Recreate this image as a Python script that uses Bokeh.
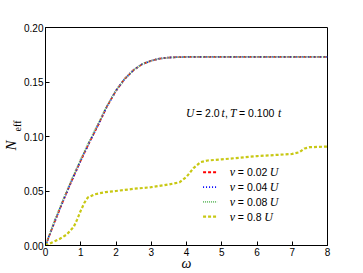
import math
from bokeh.plotting import figure
from bokeh.models import Range1d, FixedTicker, NumeralTickFormatter, Title
from bokeh.core.properties import value
from bokeh.embed import file_html
from bokeh.resources import INLINE

# ---------------- data ----------------
omega = [0, 0.25, 0.5, 0.75, 1.0, 1.25, 1.5, 1.75, 2.0, 2.25, 2.5, 2.75,
         3.0, 3.25, 3.5, 3.75, 4.0, 5.0, 6.0, 7.0, 8.0]
n_v002 = [0, 0.021, 0.041, 0.060, 0.078, 0.095, 0.111, 0.128, 0.142, 0.153,
          0.161, 0.1665, 0.1695, 0.1715, 0.1724, 0.1728, 0.173, 0.173, 0.173, 0.173, 0.173]
n_v004 = [0, 0.021, 0.041, 0.060, 0.078, 0.095, 0.111, 0.128, 0.142, 0.153,
          0.161, 0.1665, 0.1695, 0.1715, 0.1724, 0.1728, 0.173, 0.173, 0.173, 0.173, 0.173]
n_v008 = [0, 0.022, 0.042, 0.061, 0.079, 0.096, 0.112, 0.1285, 0.1423, 0.153,
          0.161, 0.1665, 0.1695, 0.1715, 0.1724, 0.1728, 0.173, 0.173, 0.173, 0.173, 0.173]

omega_v08 = [0, 0.2, 0.4, 0.6, 0.8, 0.9, 1.0, 1.1, 1.2, 1.4, 1.7, 2.0, 2.5, 3.0,
             3.5, 3.8, 4.0, 4.2, 4.4, 4.6, 5.0, 5.5, 6.0, 6.5, 7.0, 7.2, 7.35, 7.5, 8.0]
n_v08 = [0, 0.003, 0.006, 0.010, 0.017, 0.024, 0.032, 0.039, 0.044, 0.047, 0.049,
         0.050, 0.052, 0.0535, 0.056, 0.058, 0.063, 0.071, 0.0765, 0.078, 0.079,
         0.0805, 0.082, 0.083, 0.084, 0.0855, 0.089, 0.0902, 0.0908]

series_v = ["0.02", "0.04", "0.08", "0.8"]
colors = ["#ff0000", "#0000ff", "#6fbf6f", "#c8c814"]
dashes = ["3 2", "1 2", "1 1", "3 2"]
widths = [1.8, 1.8, 1.8, 2.2]

x_ticks = [0, 1, 2, 3, 4, 5, 6, 7, 8]
y_ticks = [0.0, 0.05, 0.10, 0.15, 0.20]

# ---------------- figure ----------------
p = figure(width=363, height=273, x_range=Range1d(0, 8), y_range=Range1d(0, 0.2),
           output_backend="svg", toolbar_location=None,
           min_border_left=45, min_border_right=36, min_border_top=27, min_border_bottom=28)
p.background_fill_color = "white"
p.border_fill_color = "white"
p.grid.visible = False
p.outline_line_color = "black"
p.outline_line_width = 1

for ax in (p.xaxis, p.yaxis):
    ax.axis_line_color = "black"
    ax.major_tick_line_color = "black"
    ax.major_tick_in = 4
    ax.major_tick_out = 0
    ax.minor_tick_in = 0
    ax.minor_tick_out = 0
    ax.major_label_text_font = "Liberation Sans"
    ax.major_label_text_font_size = "10px"
    ax.major_label_text_color = "black"
p.xaxis.ticker = FixedTicker(ticks=x_ticks)
p.yaxis.ticker = FixedTicker(ticks=y_ticks)
p.yaxis.formatter = NumeralTickFormatter(format="0.00")
p.xaxis.major_label_standoff = 2
p.yaxis.major_label_standoff = 2

p.xaxis.axis_label = "ω"
p.xaxis.axis_label_text_font = "Liberation Serif"
p.xaxis.axis_label_text_font_style = "italic"
p.xaxis.axis_label_text_font_size = "14px"
p.xaxis.axis_label_text_color = "black"
p.xaxis.axis_label_standoff = -3

# y axis label N_eff built from two side titles (subscript shifted)
p.add_layout(Title(text="eff", align="right", offset=93, standoff=-2,
                   text_font="Liberation Serif", text_font_style="normal",
                   text_font_size="10px", text_color="black"), "left")
p.add_layout(Title(text="N", align="right", offset=113, standoff=-16,
                   text_font="Liberation Serif", text_font_style="italic",
                   text_font_size="15px", text_color="black"), "left")

# ---------------- curves ----------------
all_curves = [(omega, n_v002), (omega, n_v004), (omega, n_v008), (omega_v08, n_v08)]
for (xs, ys), c, d, w in zip(all_curves, colors, dashes, widths):
    p.line(xs, ys, line_color=c, line_dash=d, line_width=w)

# ---------------- legend (manual, mixed italic) ----------------
leg_x0, leg_x1, leg_tx = 4.47, 4.87, 5.23
leg_y0, leg_dy = 0.0672, 0.0136
for i, (v, c, d, w) in enumerate(zip(series_v, colors, dashes, widths)):
    yy = leg_y0 - i * leg_dy
    p.line([leg_x0, leg_x1], [yy, yy], line_color=c, line_dash=d, line_width=w)
    p.text(x=[leg_tx], y=[yy], text=["v"], text_font=value("Liberation Serif"),
           text_font_style="italic", text_font_size="12px", text_baseline="middle")
    rest = "= " + v
    p.text(x=[leg_tx], y=[yy], text=[rest], x_offset=[8], text_font=value("Liberation Sans"),
           text_font_size="10.5px", text_baseline="middle")
    uoff = 8 + 5.6 * (len(v) + 1.0) + (2.9 if "." in v else 0) + 1
    p.text(x=[leg_tx], y=[yy], text=["U"], x_offset=[uoff], text_font=value("Liberation Serif"),
           text_font_style="italic", text_font_size="12px", text_baseline="middle")

# ---------------- annotation U = 2.0 t, T = 0.100 t ----------------
ann_x, ann_y = 3.986, 0.122
p.text(x=[ann_x] * 4, y=[ann_y] * 4, text=["U", "t", "T", "t"], x_offset=[0, 35.5, 44, 92],
       text_font=value("Liberation Serif"), text_font_style="italic", text_font_size="11.5px",
       text_baseline="middle")
p.text(x=[ann_x] * 3, y=[ann_y] * 3, text=["= 2.0", ",", "= 0.100"], x_offset=[10, 39, 53],
       text_font=value("Liberation Sans"), text_font_size="10.5px", text_baseline="middle")

open("out.html", "w").write(file_html(p, INLINE))
